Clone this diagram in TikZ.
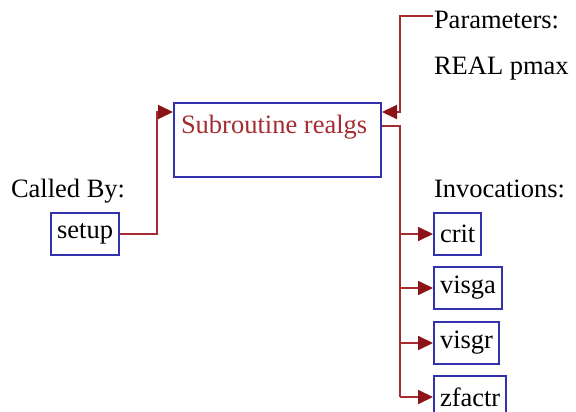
\documentclass[tikz,border=0pt]{standalone}
\usepackage{fontspec}
\setmainfont{Liberation Serif}
\usetikzlibrary{arrows.meta}
\definecolor{linkred}{RGB}{165,45,50}
\definecolor{tipred}{RGB}{140,20,25}
\definecolor{boxblue}{RGB}{50,50,175}
\begin{document}
\begin{tikzpicture}[x=1pt,y=-1pt,line width=2pt,font=\fontsize{26.5pt}{31pt}\selectfont,
  box/.style={draw=boxblue,inner xsep=6pt,inner ysep=0pt,minimum height=42pt},
  link/.style={draw=linkred},
  arr/.style={link,-{Triangle[length=15pt,width=14pt,color=tipred]}},
  lbl/.style={anchor=base west,inner sep=0pt}]
\useasboundingbox (0,0) rectangle (576,412);
\node[draw=boxblue,minimum width=207pt,minimum height=74pt,anchor=north west] (realgs) at (173,102) {};
\node[lbl,text=linkred] (title) at (180,133) {Subroutine realgs};
\node[lbl] (params) at (433,29) {Parameters:};
\node[lbl] (pmax) at (433,75) {REAL pmax};
\node[lbl] (calledby) at (10,197) {Called By:};
\node[lbl] (invoc) at (433,197) {Invocations:};
\node[box,anchor=east] (setup) at (120,234) {setup};
\node[box,anchor=west] (crit) at (433,234) {crit};
\node[box,anchor=west] (visga) at (433,288) {visga};
\node[box,anchor=west] (visgr) at (433,343) {visgr};
\node[box,anchor=west] (zfactr) at (433,397) {zfactr};
\coordinate (trunk) at (400,126);
% in and out of the subroutine
\draw[arr] (setup.east) -- ++(37,0) |- ([yshift=-10pt]realgs.north west);
\draw[arr] ([yshift=5pt]params.west) -| (trunk |- 0,100) |- ([yshift=-10pt]realgs.north east);
\draw[link] (realgs.east |- trunk) -- (trunk) -- (trunk |- zfactr.west);
\foreach \n in {crit,visga,visgr,zfactr}
  \draw[arr] (trunk |- \n.west) -- (\n.west);
\end{tikzpicture}
\end{document}
